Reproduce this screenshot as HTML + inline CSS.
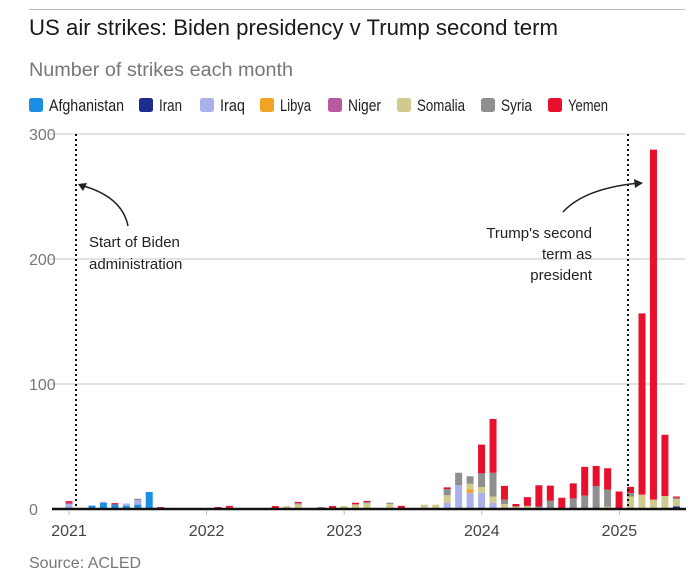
<!DOCTYPE html>
<html><head><meta charset="utf-8">
<style>
body{margin:0;background:#fff;width:700px;height:578px;overflow:hidden;font-family:"Liberation Sans",sans-serif;}
svg{display:block}
</style></head><body>
<svg id="chart" width="700" height="578">
<line x1="29" y1="9.5" x2="685" y2="9.5" stroke="#bbb" stroke-width="1"/>
<text x="29" y="35" font-size="22" fill="#1a1a1a" textLength="529" lengthAdjust="spacingAndGlyphs">US air strikes: Biden presidency v Trump second term</text>
<text x="29" y="76" font-size="19" fill="#777" textLength="264" lengthAdjust="spacingAndGlyphs">Number of strikes each month</text>
<g id="legend"></g>
<g id="grid"></g>
<g id="bars"></g>
<g id="axis"></g>
<line x1="76" y1="134" x2="76" y2="509" stroke="#111" stroke-width="2" stroke-dasharray="2,3"/>
<line x1="628" y1="134" x2="628" y2="509" stroke="#111" stroke-width="2" stroke-dasharray="2,3"/>
<path d="M128,226 Q122,196 80,185" fill="none" stroke="#222" stroke-width="1.5"/>
<path d="M78,184 l9,-1 l-4,8 z" fill="#222"/>
<path d="M563,212 Q585,188 640,183" fill="none" stroke="#222" stroke-width="1.5"/>
<path d="M643,183 l-9,-4 l1,9 z" fill="#222"/>
<g font-size="15" fill="#222">
<text x="89" y="247">Start of Biden</text>
<text x="89" y="269">administration</text>
</g>
<g font-size="15" fill="#222" text-anchor="end">
<text x="592" y="238">Trump's second</text>
<text x="592" y="259">term as</text>
<text x="592" y="280">president</text>
</g>
<text x="29" y="568" font-size="16" fill="#777">Source: ACLED</text>
</svg>
<script>
const countries=["Afghanistan","Iran","Iraq","Libya","Niger","Somalia","Syria","Yemen"];
const colors=["#1b8fe3","#1c2d8e","#a9b1ea","#f2a325","#b65aa2","#d0cb8c","#8f8f8f","#e8102c"];
const yTicks=[0,100,200,300];
const yearLabels=["2021","2022","2023","2024","2025"];
const afghanistan=[0,0,2.7,4.8,3.7,2.4,3.5,13.6,0,0, 0,0,0,0,0,0,0,0,0,0, 0,0,0,0,0,0,0,0,0,0, 0,0,0,0,0,0,0,0,0,0, 0,0,0,0,0,0,0,0,0,0, 0,0,0,0];
const iran=[0,0,0,0,0,0,0,0,0,0, 0,0,0,0,0,0,0,0,0,0, 0,0,0,0,0,0,0,0,0,0, 0,0,0,0,0,0,0,0,0,0, 0,0,0,0,0,0,0,0,0,0, 0,0,0,2];
const iraq=[4,0,0,1,0,2,3.7,0,0,0, 0,0,0,0,0,0,0,0,0,0, 0,0,0,0,0,0,0,0,0,0, 0,0,0,5,19,13,13,5,0,0, 0,0,0,0,0,0,0,0,0,0, 0,0,0,0];
const libya=[0,0,0,0,0,0,0,0,0,0, 0,0,0,0,0,0,0,0,0,0, 0,0,0,0,0,0,0,0,0,0, 0,0,0,0,0,2.7,0,0,0,0, 0,0,0,0,0,0,0,0,0,0, 0,0,0,0];
const niger=[1,0,0,0,0,0,0,0,0,0, 0,0,0,0,0,0,0,0,0,0, 0,0,0,0,0,0,0,0,0,0, 0,0,0,0,0,0,0,0,0,0, 0,0,0,0,0,0,0,0,0,0, 0,0,0,0];
const somalia=[0,0,0,0,0,0,0,0,0,0, 0,0,0,0,1,0,0,0,0,2.4, 3.7,0,0,0,2.4,3.7,4.5,0,4,0, 0,3.5,3.5,6,0,4.5,4.5,5,4,2, 2.5,1,0,0,0,0,0,2,0,10, 11.5,7.5,10.4,6];
const syria=[0,0,0,0,0,0,1,0,0,0, 0,0,0,0,0,0,0,0,0,0, 1,0,1.6,0,0,0,1,0,1,0, 0,0,0,5,10,6,11,19,3.5,0, 0,1,6.7,0,8.5,10.7,18.4,13.6,0,2.7, 0,0,0,1];
const yemen=[1.3,0,0,0,1,0,0,0,1.6,0, 0.5,0,0,1.6,1.5,0,0,0,2.4,0, 1,0,0,2.4,0,1.3,1,0,0,2.5, 0,0,0,1.3,0,0,23,43,11,2, 7,17,12,9,12,23,16,17,14,5, 145,280,49,1];
const series=[afghanistan,iran,iraq,libya,niger,somalia,syria,yemen];

const NS="http://www.w3.org/2000/svg";
function mk(tag,attrs,parent){const e=document.createElementNS(NS,tag);for(const k in attrs)e.setAttribute(k,attrs[k]);parent.appendChild(e);return e;}
const x=i=>69+11.46*i;
const y=v=>509-1.25*v;
const xYear=k=>69+137.6*k;

const legX=[29,139,200,260,328,397,481,548];
const legW=[75,23,25,31,33,48,31,40];
const lg=document.getElementById('legend');
countries.forEach((c,i)=>{
  const g=mk('g',{},lg);
  
  
  mk('rect',{x:legX[i],y:98,width:14,height:14,rx:2.5,fill:colors[i]},g);
  mk('text',{x:legX[i]+20,y:111,'font-size':17,fill:'#222',textLength:legW[i],lengthAdjust:'spacingAndGlyphs'},g).textContent=c;
});

const gr=document.getElementById('grid');
yTicks.forEach(t=>{
  if(t>0){
    const l=mk('line',{x1:48,x2:685,y1:y(t),y2:y(t),stroke:'#d9d9d9','stroke-width':1.5},gr);
    
    
  }
  const tx=mk('text',{x:29,y:y(t)+6,'font-size':16,fill:'#777'},gr);
  
  
  tx.textContent=t;
});

const bg=document.getElementById('bars');
for(let i=0;i<afghanistan.length;i++){
  let acc=0;
  series.forEach((s,k)=>{
    const v=s[i]; if(!v) return;
    const r=mk('rect',{x:x(i)-3.5,y:y(acc+v),width:7,height:1.25*v,fill:colors[k]},bg);
    
    
    acc+=v;
  });
}

const ax=document.getElementById('axis');
const base=mk('line',{x1:52,x2:686,y1:509,y2:509,stroke:'#111','stroke-width':2.5},ax);


yearLabels.forEach((lab,k)=>{
  mk('line',{x1:xYear(k),x2:xYear(k),y1:510,y2:515,stroke:'#bbb','stroke-width':1},ax);
  const t=mk('text',{x:xYear(k),y:536,'font-size':16,fill:'#444','text-anchor':'middle'},ax);
  
  
  t.textContent=lab;
});
</script>
</body></html>
